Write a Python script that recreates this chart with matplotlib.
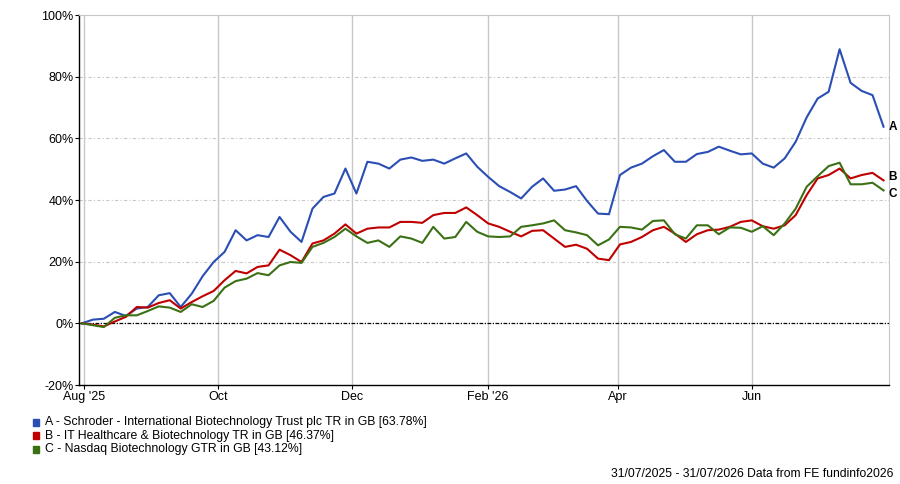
import matplotlib
matplotlib.use("Agg")
import matplotlib.pyplot as plt
from matplotlib.patches import Rectangle
import pandas as pd

plt.rcParams['font.family'] = ['Liberation Sans', 'DejaVu Sans']

# every 5 days from 31/07/2025 to 31/07/2026
dates = pd.date_range("2025-07-31", periods=74, freq="5D")

letters = ["A", "B", "C"]
names = ["Schroder - International Biotechnology Trust plc TR in GB",
         "IT Healthcare & Biotechnology TR in GB",
         "Nasdaq Biotechnology GTR in GB"]
colors = ["#2a4eb4", "#c00000", "#3b7114"]

series_a = [0, 1.2, 1.5, 3.7, 2.4, 4.8, 5.3, 9.1, 9.8, 5.3,
            9.6, 15.3, 19.9, 23.2, 30.2, 26.9, 28.6, 28.0, 34.5, 29.7,
            26.4, 37.2, 41.0, 42.1, 50.2, 42.1, 52.4, 51.8, 50.2, 53.1,
            53.8, 52.7, 53.1, 51.8, 53.5, 55.1, 50.8, 47.5, 44.5, 42.6,
            40.5, 44.3, 47.0, 43.0, 43.4, 44.5, 39.7, 35.6, 35.4, 48.1,
            50.5, 51.8, 54.2, 56.2, 52.4, 52.4, 54.9, 55.6, 57.3, 56.0,
            54.8, 55.1, 51.8, 50.5, 53.5, 58.9, 66.8, 72.9, 75.1, 88.9,
            78.0, 75.4, 74.0, 63.78]
series_b = [0, -0.4, -1.0, 0.6, 2.1, 5.3, 5.1, 6.6, 7.5, 4.8,
            6.9, 8.8, 10.5, 14.0, 17.0, 16.2, 18.3, 18.8, 23.9, 22.1,
            19.9, 25.9, 26.9, 29.1, 32.1, 29.1, 30.7, 31.1, 31.1, 32.9,
            32.9, 32.6, 35.1, 35.8, 35.8, 37.6, 35.1, 32.4, 31.3, 29.7,
            28.2, 30.0, 30.2, 27.5, 24.8, 25.5, 24.2, 21.0, 20.5, 25.6,
            26.4, 28.0, 30.2, 31.3, 29.1, 26.4, 28.9, 30.2, 30.4, 31.3,
            32.9, 33.4, 31.5, 30.7, 31.8, 35.1, 41.6, 47.0, 48.1, 50.2,
            47.0, 48.1, 48.8, 46.37]
series_c = [0, -0.6, -1.2, 1.8, 2.6, 2.6, 4.0, 5.5, 5.1, 3.7,
            6.2, 5.3, 7.3, 11.6, 13.7, 14.5, 16.3, 15.6, 18.8, 19.9,
            19.6, 24.8, 26.1, 28.0, 30.7, 28.2, 26.1, 26.9, 24.8, 28.2,
            27.5, 26.1, 31.3, 27.5, 28.0, 32.9, 29.7, 28.2, 28.0, 28.2,
            31.3, 31.8, 32.4, 33.4, 30.2, 29.5, 28.6, 25.3, 27.2, 31.3,
            31.1, 30.4, 33.2, 33.4, 28.9, 27.5, 31.8, 31.8, 28.9, 31.1,
            31.0, 29.7, 31.5, 28.6, 32.4, 37.2, 44.3, 47.7, 51.0, 52.1,
            45.1, 45.1, 45.6, 43.12]

y_ticks = [-20, 0, 20, 40, 60, 80, 100]
x_ticks = ["2025-08-01", "2025-10-01", "2025-12-01", "2026-02-01", "2026-04-01", "2026-06-01"]
x_labels = ["Aug '25", "Oct", "Dec", "Feb '26", "Apr", "Jun"]

fig = plt.figure(figsize=(9, 4.84), dpi=100)
ax = fig.add_axes([0.0878, 0.2045, 0.9, 0.7645])

grey = "#c8c8c8"
for tick in x_ticks:
    ax.axvline(pd.Timestamp(tick), color=grey, lw=1, zorder=0)
for v in y_ticks[2:-1]:
    ax.axhline(v, color=grey, lw=0.8, linestyle=(0, (3, 2, 1, 2)), zorder=0)
ax.axhline(0, color="black", lw=0.9, linestyle=(0, (3, 1.2, 1, 1.2)), zorder=1)

all_series = [series_a, series_b, series_c]
for vals, col in zip(all_series, colors):
    ax.plot(dates, vals, color=col, lw=1.5, zorder=3)

# end labels, B and C nudged apart so they don't collide
nudge = [0, 2.5, -2.5]
for letter, vals, dy in zip(letters, all_series, nudge):
    ax.annotate(letter, xy=(dates[-1], vals[-1]), xytext=(3.5, dy), textcoords="offset points",
                ha="left", va="center", fontsize=8.5, fontweight="bold", annotation_clip=False)

ax.set_xlim(dates[0] - pd.Timedelta(days=1.3), dates[0] + pd.Timedelta(days=367.5))
ax.set_ylim(-20, 100)
ax.set_yticks(y_ticks)
ax.set_yticklabels([f"{v}%" for v in y_ticks], fontsize=9)
ax.set_xticks([pd.Timestamp(t) for t in x_ticks])
ax.set_xticklabels(x_labels, fontsize=9)
ax.tick_params(axis="both", length=3, width=0.8, pad=1, color="black")

for side in ["top", "right"]:
    ax.spines[side].set_color(grey)
for side in ["left", "bottom"]:
    ax.spines[side].set_color("black")
    ax.spines[side].set_linewidth(1)

# legend below the chart
for i, (letter, name, col, vals) in enumerate(zip(letters, names, colors, all_series)):
    yc = 1 - (422 + 13.5 * i) / 484
    fig.add_artist(Rectangle((33 / 900, yc - 3.5 / 484), 6 / 900, 7 / 484,
                             transform=fig.transFigure, color=col))
    fig.text(45 / 900, yc, f"{letter} - {name} [{vals[-1]:.2f}%]", fontsize=8.8,
             va="center", ha="left")

fig.text(893 / 900, 1 - 474 / 484, "31/07/2025 - 31/07/2026 Data from FE fundinfo2026",
         fontsize=8.7, ha="right", va="center")

fig.savefig("out.png", dpi=100)
